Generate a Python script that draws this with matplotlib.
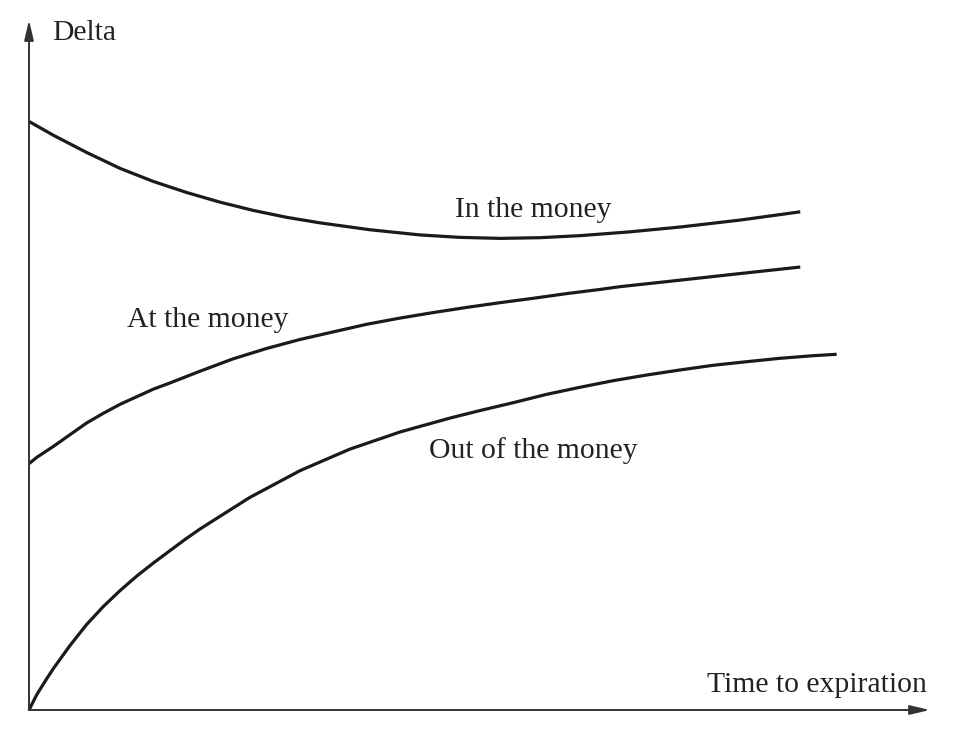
import matplotlib.pyplot as plt

plt.rcParams['font.family'] = ['Liberation Serif', 'DejaVu Serif']

# Curves (time to expiration, delta), arbitrary 0-100 units
itm_time = [0, 2.7, 6.4, 10.1, 13.8, 17.5, 21.2, 24.9, 28.6, 32.3, 37.85, 43.4,
            47.8, 52.3, 56.7, 61.2, 66.7, 72.3, 78.9, 85.6]
itm_delta = [85.3, 83.3, 80.8, 78.5, 76.6, 75.0, 73.6, 72.4, 71.4, 70.6, 69.6, 68.85,
             68.5, 68.35, 68.45, 68.75, 69.3, 70.0, 71.0, 72.2]

atm_time = [0, 0.85, 2.7, 4.55, 6.4, 8.25, 10.1, 11.95, 13.8, 15.65, 18.98, 22.67,
            26.38, 30.08, 33.77, 37.48, 41.18, 44.87, 48.58, 52.27, 55.97, 59.68,
            63.37, 65.59, 72.3, 78.9, 85.6]
atm_delta = [35.7, 36.6, 38.2, 39.9, 41.6, 43.0, 44.3, 45.4, 46.5, 47.4, 49.1, 50.9,
             52.4, 53.7, 54.8, 55.9, 56.8, 57.6, 58.35, 59.03, 59.67, 60.35,
             60.95, 61.35, 62.3, 63.25, 64.2]

otm_time = [0, 0.85, 1.78, 2.7, 4.55, 6.4, 8.25, 10.1, 11.95, 13.8, 15.65, 17.3,
            19.0, 24.5, 30.1, 35.6, 41.2, 46.7, 50.06, 53.75, 57.46, 61.15, 64.85,
            68.56, 72.26, 75.95, 79.66, 83.35, 87.05, 89.64]
otm_delta = [0, 2.2, 4.15, 6.0, 9.35, 12.4, 15.0, 17.3, 19.4, 21.3, 23.1, 24.7,
             26.25, 30.8, 34.7, 37.8, 40.3, 42.3, 43.4, 44.54, 45.75, 46.77, 47.73,
             48.55, 49.28, 49.96, 50.48, 50.97, 51.35, 51.55]

labels = ["In the money", "At the money", "Out of the money"]
label_pos = [(56.0, 71.4), (19.8, 55.5), (56.0, 36.5)]

fig = plt.figure(figsize=(9.68, 7.5), dpi=100)
ax = fig.add_axes([29 / 968, 40 / 750, 901 / 968, 690 / 750])
ax.set_xlim(0, 100)
ax.set_ylim(0, 100)
ax.axis('off')

line_kw = dict(color='#1a1a1a', lw=2.3, solid_capstyle='butt',
               solid_joinstyle='round', clip_on=False)
ax.plot(itm_time, itm_delta, **line_kw)
ax.plot(atm_time, atm_delta, **line_kw)
ax.plot(otm_time, otm_delta, **line_kw)

# axes with arrow heads
arrow_kw = dict(arrowstyle='-|>,head_length=1.2,head_width=0.28', color='#333333',
                lw=1.4, shrinkA=0, shrinkB=0)
ax.annotate('', xy=(0, 100), xytext=(0, 0), arrowprops=arrow_kw, annotation_clip=False)
ax.annotate('', xy=(100, 0), xytext=(0, 0), arrowprops=arrow_kw, annotation_clip=False)

for text, (x, y) in zip(labels, label_pos):
    ax.text(x, y, text, ha='center', va='baseline', fontsize=21.3, color='#222222')

ax.text(2.55, 97.1, "Delta", ha='left', va='baseline', fontsize=21.3, color='#222222')
ax.text(75.2, 2.65, "Time to expiration", ha='left', va='baseline', fontsize=21.3,
        color='#222222')

fig.savefig('out.png', dpi=100)
